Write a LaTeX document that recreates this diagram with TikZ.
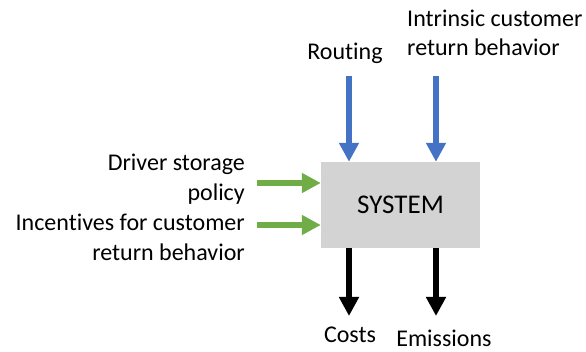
\documentclass[tikz,border=0pt]{standalone}
\usepackage{fontspec}
\setmainfont{Carlito}[Ligatures=NoCommon]
\usetikzlibrary{arrows.meta}
\definecolor{inblue}{HTML}{4472C4}
\definecolor{ingreen}{HTML}{70AD47}
\definecolor{boxgray}{HTML}{D3D3D3}
\begin{document}
\begin{tikzpicture}[x=1pt,y=-1pt,
  lbl/.style={inner sep=0pt,font=\fontsize{24}{29.3}\selectfont},
  blockarrow/.style={line width=6.5pt,-{Triangle[width=19pt,length=19pt]}},
  ctrl/.style={blockarrow,draw=inblue},
  policyin/.style={blockarrow,draw=ingreen},
  result/.style={blockarrow,draw=black}]
\useasboundingbox (0,0) rectangle (586,352);
% the system block
\node[fill=boxgray,minimum width=159pt,minimum height=86pt,inner sep=0pt,
      font=\fontsize{27}{32}\selectfont] (sys) at (400.5,205) {SYSTEM};
% labels (multi-line labels are anchored at their last baseline)
\node[lbl,anchor=base] (routing) at (345,60) {Routing};
\node[lbl,anchor=base west,align=left] (intrinsic) at (407,56) {Intrinsic customer\\return behavior};
\node[lbl,anchor=base east,align=right] (driver) at (245,200.3) {Driver storage\\policy};
\node[lbl,anchor=base east,align=right] (incent) at (245,260.3) {Incentives for customer\\return behavior};
\node[lbl,anchor=base] (costs) at (350,343) {Costs};
\node[lbl,anchor=base] (emis) at (444,346) {Emissions};
% arrow tails
\coordinate (rt) at (349,76);
\coordinate (it) at (436,76);
\coordinate (dt) at (257,183);
\coordinate (ct) at (257,225);
\coordinate (cs) at (349,248);
\coordinate (es) at (436,248);
\coordinate (ce) at (349,316);
\coordinate (ee) at (436,316);
% arrows
\draw[ctrl] (rt) -- (sys.north -| rt);
\draw[ctrl] (it) -- (sys.north -| it);
\draw[policyin] (dt) -- (sys.west |- dt);
\draw[policyin] (ct) -- (sys.west |- ct);
\draw[result] (cs) -- (ce);
\draw[result] (es) -- (ee);
\end{tikzpicture}
\end{document}
